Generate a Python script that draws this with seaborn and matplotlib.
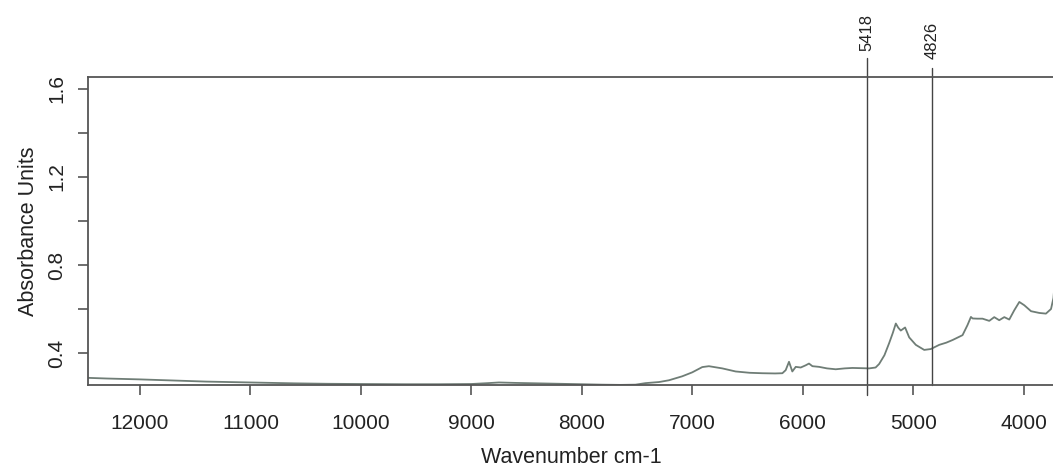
import matplotlib
matplotlib.use("Agg")
import matplotlib.pyplot as plt
import matplotlib.transforms as mtransforms
import seaborn as sns
import pandas as pd

# --- data ---
wavenumber = [12470, 12300, 12000, 11700, 11400, 11000, 10600, 10300, 10000,
              9600, 9300, 9000, 8850, 8750, 8600, 8400, 8200, 8000, 7816, 7650,
              7514, 7423, 7300, 7211, 7091, 7000, 6909, 6849, 6728, 6607, 6480,
              6366, 6250, 6184, 6154, 6124, 6094, 6063, 6018, 5973, 5943, 5912,
              5852, 5780, 5701, 5620, 5550, 5470, 5399, 5340, 5308, 5260, 5218,
              5185, 5157, 5135, 5112, 5073, 5036, 4976, 4900, 4840, 4764, 4700,
              4643, 4553, 4508, 4477, 4462, 4420, 4372, 4311, 4266, 4221, 4175,
              4130, 4085, 4039, 3994, 3933, 3858, 3798, 3752, 3730, 3715]
absorbance = [0.287, 0.284, 0.280, 0.275, 0.270, 0.266, 0.262, 0.260, 0.259,
              0.258, 0.258, 0.259, 0.263, 0.266, 0.264, 0.262, 0.260, 0.258, 0.256, 0.255,
              0.256, 0.263, 0.268, 0.276, 0.294, 0.312, 0.336, 0.340, 0.330, 0.316, 0.310,
              0.308, 0.307, 0.308, 0.322, 0.360, 0.316, 0.337, 0.334, 0.344, 0.352, 0.340,
              0.337, 0.330, 0.326, 0.330, 0.332, 0.331, 0.330, 0.334, 0.350, 0.390, 0.444,
              0.490, 0.534, 0.515, 0.502, 0.516, 0.471, 0.437, 0.414, 0.418, 0.437, 0.447,
              0.459, 0.481, 0.527, 0.564, 0.557, 0.556, 0.556, 0.546, 0.563, 0.549, 0.563,
              0.552, 0.594, 0.632, 0.617, 0.590, 0.582, 0.579, 0.600, 0.650, 0.740]
marker_positions = [5418, 4826]
marker_labels = ["5418", "4826"]
x_ticks = [12000, 11000, 10000, 9000, 8000, 7000, 6000, 5000, 4000]
y_ticks = [0.4, 0.6, 0.8, 1.0, 1.2, 1.4, 1.6]
y_tick_labels = ["0.4", "", "0.8", "", "1.2", "", "1.6"]

sns.set_style("ticks")
plt.rcParams["font.family"] = ["Liberation Sans", "DejaVu Sans"]

df = pd.DataFrame({"wn": wavenumber, "abs": absorbance})

fig = plt.figure(figsize=(10.53, 4.67), dpi=100)
ax = fig.add_axes([88 / 1053, (467 - 385) / 467, 1 - 88 / 1053 + 0.002, (385 - 77) / 467])

sns.lineplot(data=df, x="wn", y="abs", ax=ax, color="#6f7d76", linewidth=1.3,
             sort=False, estimator=None)

ax.set_xlim(12470, 3715)
ax.set_ylim(0.2545, 1.6545)
ax.set_xticks(x_ticks)
ax.set_xticklabels([str(t) for t in x_ticks])
ax.set_yticks(y_ticks)
ax.set_yticklabels(y_tick_labels, rotation=90, va="center")

for s in ["left", "bottom", "top"]:
    ax.spines[s].set_color("#555555")
    ax.spines[s].set_linewidth(1.3)
ax.spines["right"].set_visible(False)

ax.tick_params(axis="both", direction="out", length=7, width=1.2, color="#555555",
               labelsize=15, labelcolor="#222222")
ax.tick_params(axis="x", pad=14)
ax.tick_params(axis="y", pad=8.5)

ax.set_xlabel("Wavenumber cm-1", fontsize=15.5, color="#222222", labelpad=10)
ax.set_ylabel("Absorbance Units", fontsize=15.5, color="#222222", labelpad=6)

trans = mtransforms.blended_transform_factory(ax.transData, ax.transAxes)
line_tops = [1 + 19 / 308, 1 + 9 / 308]
line_bottoms = [-10 / 308, 0.0]
label_bottoms = [1 + 26 / 308, 1 + 18 / 308]
for pos, lab, top, bot, lb in zip(marker_positions, marker_labels, line_tops,
                                  line_bottoms, label_bottoms):
    ax.plot([pos, pos], [bot, top], transform=trans, color="#444444",
            linewidth=1.0, clip_on=False)
    ax.text(pos, lb, lab, transform=trans, rotation=90, ha="center", va="bottom",
            fontsize=12, color="#222222")

fig.savefig("out.png", dpi=100)
